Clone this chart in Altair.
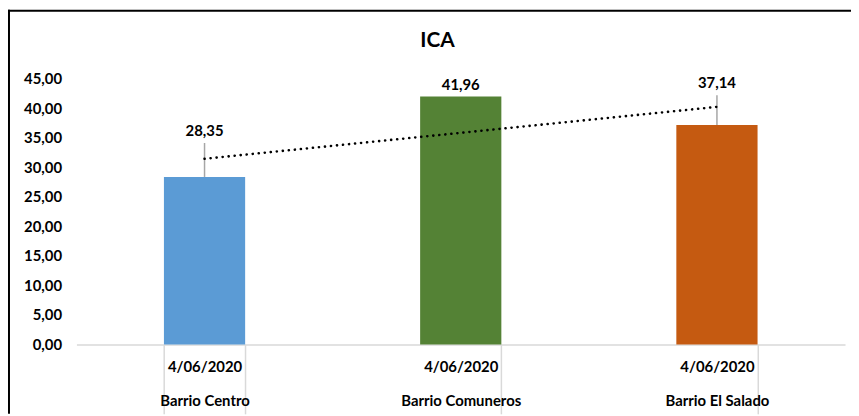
import altair as alt
import pandas as pd

# ---- data ----
barrios = ["Barrio Centro", "Barrio Comuneros", "Barrio El Salado"]
dates = ["4/06/2020", "4/06/2020", "4/06/2020"]
values = [28.35, 41.96, 37.14]
err_plus = [5.75, 0.0, 5.06]
bar_colors = ["#5B9BD5", "#548235", "#C55A11"]
y_ticks = [0, 5, 10, 15, 20, 25, 30, 35, 40, 45]
title_text = "ICA"

df = pd.DataFrame({
    "cat": [d + "|" + b for d, b in zip(dates, barrios)],
    "idx": list(range(1, len(values) + 1)),
    "value": values,
    "upper": [v + e for v, e in zip(values, err_plus)],
})
one = pd.DataFrame({"a": [0]})

W, H = 775, 268
FONT = "Lato"
NOVIEW = alt.ViewBackground(stroke="transparent", strokeWidth=0)

xscale = alt.Scale(paddingInner=0.683, paddingOuter=0.3415)
x_axis = alt.Axis(
    labelExpr="datum.value ? split(datum.value, '|') : ''",
    labelAngle=0, labelFont=FONT, labelFontSize=15, labelFontWeight="bold",
    labelColor="#000000", labelLineHeight=35, labelBaseline="top",
    labelPadding=-55, ticks=True, tickBand="extent", tickSize=70,
    tickColor="#d9d9d9", tickWidth=1.5, domainColor="#d9d9d9", domainWidth=1.5,
    grid=False, labelOverlap=False,
)
yscale = alt.Scale(domain=[0, 45], nice=False, zero=True)
y_axis = alt.Axis(
    values=y_ticks,
    labelExpr="replace(format(datum.value, '.2f'), '.', ',')",
    labelFont=FONT, labelFontSize=15, labelFontWeight="bold", labelColor="#000000",
    labelPadding=15, ticks=False, tickSize=0, domain=False, grid=False,
    labelOverlap=False,
)


def xc():
    return alt.X("cat:N", sort=None, title=None, scale=xscale, axis=x_axis)


def yv(field):
    return alt.Y(field, scale=yscale, title=None, axis=y_axis)


base = alt.Chart(df)

bars = base.mark_bar().encode(
    x=xc(), y=yv("value:Q"),
    color=alt.Color("cat:N", scale=alt.Scale(domain=df["cat"].tolist(), range=bar_colors), legend=None),
)

errs = base.mark_rule(color="#A6A6A6", strokeWidth=1.5).encode(
    x=xc(), y=yv("value:Q"), y2="upper:Q",
)

labels = base.transform_calculate(
    lab="replace(format(datum.value, '.2f'), '.', ',')"
).mark_text(font=FONT, fontSize=15, fontWeight="bold", color="#000000",
            baseline="middle", dy=-12).encode(
    x=xc(), y=yv("upper:Q"), text="lab:N",
)

cat_layer = alt.layer(bars, errs, labels).properties(view=NOVIEW)

trend = base.transform_regression(
    "idx", "value", method="linear", extent=[1, len(values)]
).mark_line(color="#000000", strokeWidth=2.6, strokeDash=[0.1, 6], strokeCap="round").encode(
    x=alt.X("idx:Q", scale=alt.Scale(domain=[0.5, len(values) + 0.5], nice=False, zero=False), axis=None),
    y=yv("value:Q"),
)

title = alt.Chart(one).mark_text(
    text=title_text, font=FONT, fontSize=21, fontWeight="bold", color="#000000",
    align="center", baseline="alphabetic",
).encode(x=alt.value(364), y=alt.value(-32))

border_top = alt.Chart(one).mark_rule(color="#000000", strokeWidth=2).encode(
    x=alt.value(-69), x2=alt.value(W + 6), y=alt.value(-68.5)
)
border_left = alt.Chart(one).mark_rule(color="#000000", strokeWidth=2).encode(
    x=alt.value(-68), y=alt.value(-69.5), y2=alt.value(H + 70)
)

chart = alt.layer(cat_layer, trend, title, border_top, border_left).resolve_scale(
    x="independent"
).properties(
    width=W, height=H, view=NOVIEW,
    autosize=alt.AutoSizeParams(type="none"),
    padding={"left": 69, "top": 69.5, "right": 6, "bottom": 70},
).configure_view(strokeWidth=0, stroke="transparent").configure(font=FONT)

chart.save("out.html", embed_options={"renderer": "svg", "actions": False})
